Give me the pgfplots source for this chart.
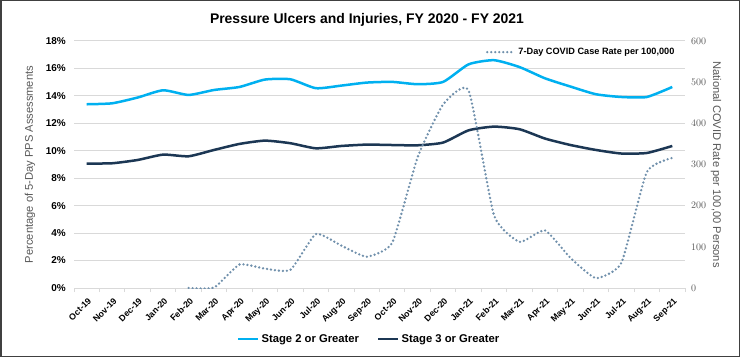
\documentclass[border=0pt]{standalone}
\usepackage{pgfplots}
\pgfplotsset{compat=1.18}
\usepackage{fontspec}
\setmainfont{Liberation Sans}
\definecolor{stagetwo}{RGB}{0,176,240}
\definecolor{stagethree}{RGB}{28,55,84}
\definecolor{covid}{RGB}{112,144,172}
\definecolor{gridc}{RGB}{217,217,217}
\definecolor{labc}{RGB}{89,89,89}
\definecolor{framec}{RGB}{64,64,64}
\begin{document}
\begin{tikzpicture}[x=1bp,y=1bp]
\fill[white] (0,0) rectangle (740,357);
\begin{axis}[
  at={(74bp,69bp)}, anchor=south west,
  scale only axis, width=611bp, height=247bp,
  xmin=-0.5, xmax=23.5, ymin=0, ymax=18,
  axis x line*=bottom, axis y line*=left,
  x axis line style={gridc, line width=1bp},
  y axis line style={draw=none},
  ytick={0,2,...,18},
  yticklabels={0\%,2\%,4\%,6\%,8\%,10\%,12\%,14\%,16\%,18\%},
  ymajorgrids, grid style={gridc, line width=1bp},
  major tick length=0pt,
  xtick={0,...,23},
  xticklabels={Oct-19,Nov-19,Dec-19,Jan-20,Feb-20,Mar-20,Apr-20,May-20,Jun-20,Jul-20,Aug-20,Sep-20,Oct-20,Nov-20,Dec-20,Jan-21,Feb-21,Mar-21,Apr-21,May-21,Jun-21,Jul-21,Aug-21,Sep-21},
  minor xtick={-0.5,0.5,...,23.5},
  minor tick length=4bp, tick align=outside,
  every minor tick/.style={draw=gridc, line width=1bp},
  xticklabel style={font=\bfseries\fontsize{8.8}{9}\selectfont, rotate=45, anchor=north east, inner sep=0bp, yshift=-7bp, xshift=-6bp},
  yticklabel style={font=\bfseries\fontsize{10}{11}\selectfont, inner sep=0bp, xshift=-8bp},
  every axis y label/.style={at={(rel axis cs:0,0.5)}, xshift=-44bp, rotate=90, anchor=center, font=\fontsize{11.2}{12}\selectfont, text=labc},
  ylabel={Percentage of 5-Day PPS Assessments},
  legend style={at={(0.483,-0.206)}, anchor=center, draw=none, fill=none, legend columns=2,
    font=\bfseries\fontsize{11.3}{12}\selectfont, /tikz/every even column/.append style={column sep=16bp}},
  legend image code/.code={\draw[#1, line width=2.5bp] (0bp,0bp) -- (20bp,0bp);},
]
\addplot[stagetwo, line width=2.5bp, smooth, tension=0.35] coordinates {
(0,13.39) (1,13.46) (2,13.88) (3,14.41) (4,14.07) (5,14.43) (6,14.65) (7,15.19) (8,15.21) (9,14.56) (10,14.75) (11,14.97)
(12,15.02) (13,14.85) (14,15.02) (15,16.3) (16,16.6) (17,16.1) (18,15.28) (19,14.68) (20,14.12) (21,13.92) (22,13.92) (23,14.65)};
\addlegendentry{Stage 2 or Greater}
\addplot[stagethree, line width=2.5bp, smooth, tension=0.35] coordinates {
(0,9.07) (1,9.09) (2,9.33) (3,9.72) (4,9.6) (5,10.06) (6,10.5) (7,10.74) (8,10.55) (9,10.18) (10,10.35) (11,10.45)
(12,10.42) (13,10.4) (14,10.6) (15,11.49) (16,11.76) (17,11.57) (18,10.89) (19,10.42) (20,10.06) (21,9.8) (22,9.84) (23,10.35)};
\addlegendentry{Stage 3 or Greater}
\end{axis}
\begin{axis}[
  at={(74bp,69bp)}, anchor=south west,
  scale only axis, width=611bp, height=247bp,
  xmin=-0.5, xmax=23.5, ymin=0, ymax=600,
  axis x line=none, axis y line*=right,
  y axis line style={draw=none},
  ytick={0,100,...,600},
  major tick length=0pt,
  yticklabel style={font=\bfseries\fontsize{10}{11}\selectfont, text=labc, inner sep=0bp, xshift=6bp},
  every axis y label/.style={at={(rel axis cs:1,0.5)}, xshift=31bp, rotate=-90, anchor=center, font=\fontsize{11.2}{12}\selectfont, text=labc},
  ylabel={National COVID Rate per 100,00 Persons},
  legend style={at={(0.83,0.955)}, anchor=center, draw=none, fill=none,
    font=\bfseries\fontsize{9.2}{10}\selectfont},
  legend image code/.code={\draw[#1] (0bp,0bp) -- (28bp,0bp);},
]
\addplot[covid, line width=2.6bp, dash pattern=on 0pt off 4bp, line cap=round, smooth, tension=0.3] coordinates {
(4,0) (5,1) (6,57) (7,47) (8,44) (9,131) (10,103) (11,76) (12,110) (13,318) (14,446) (15,480) (16,176) (17,112) (18,140) (19,73) (20,24) (21,61) (22,282) (23,316)};
\addlegendentry{7-Day COVID Case Rate per 100,000}
\end{axis}
\node[font=\bfseries\fontsize{14}{16}\selectfont, anchor=base] at (367,334) {Pressure Ulcers and Injuries, FY 2020 - FY 2021};
\draw[framec, line width=1.5bp] (0.75,0.75) rectangle (739.25,356.25);
\end{tikzpicture}
\end{document}
